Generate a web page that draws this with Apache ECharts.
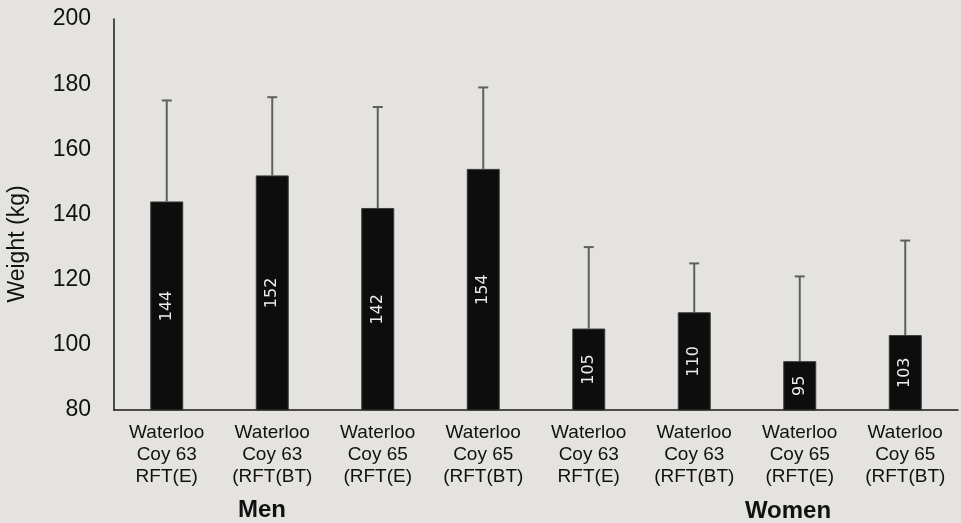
<!DOCTYPE html>
<html>
<head>
<meta charset="utf-8">
<style>
  html, body { margin: 0; padding: 0; background: #e4e3df; }
  #chart { width: 961px; height: 523px; }
</style>
<script src="https://cdn.jsdelivr.net/npm/echarts@6/dist/echarts.min.js"></script>
</head>
<body>
<div id="chart"></div>
<script>
// Mean weight per group and the upper end of each error bar (kg)
const categories = [
  'Waterloo\nCoy 63\nRFT(E)',
  'Waterloo\nCoy 63\n(RFT(BT)',
  'Waterloo\nCoy 65\n(RFT(E)',
  'Waterloo\nCoy 65\n(RFT(BT)',
  'Waterloo\nCoy 63\nRFT(E)',
  'Waterloo\nCoy 63\n(RFT(BT)',
  'Waterloo\nCoy 65\n(RFT(E)',
  'Waterloo\nCoy 65\n(RFT(BT)'
];
const meanWeight = [144, 152, 142, 154, 105, 110, 95, 103];
const errorTop = [175, 176, 173, 179, 130, 125, 121, 132];
const yTicks = { min: 80, max: 200, interval: 20 };
const yTitle = 'Weight (kg)';
const groupLabels = ['Men', 'Women'];

const FONT = '"Liberation Sans", Arial, sans-serif';
const chart = echarts.init(document.getElementById('chart'), null, { renderer: 'canvas' });

const errorData = meanWeight.map((v, i) => [i, v, errorTop[i]]);

chart.setOption({
  backgroundColor: '#e4e3df',
  animation: false,
  grid: { left: 114, right: 3, top: 19, bottom: 113, containLabel: false },
  xAxis: {
    type: 'category',
    data: categories,
    axisLine: { lineStyle: { color: '#1a1a1a', width: 1.5 } },
    axisTick: { show: false },
    axisLabel: {
      interval: 0,
      margin: 12,
      color: '#111',
      fontFamily: FONT,
      fontSize: 19,
      lineHeight: 22
    }
  },
  yAxis: {
    type: 'value',
    min: yTicks.min,
    max: yTicks.max,
    interval: yTicks.interval,
    splitLine: { show: false },
    axisLine: { show: true, lineStyle: { color: '#1a1a1a', width: 1.5 } },
    axisTick: { show: false },
    axisLabel: {
      margin: 23,
      color: '#111',
      fontFamily: FONT,
      fontSize: 23
    }
  },
  series: [
    {
      type: 'bar',
      data: meanWeight,
      barWidth: 33,
      itemStyle: { color: '#0d0d0d', borderColor: '#3c3c3c', borderWidth: 1 },
      label: {
        show: true,
        position: 'inside',
        rotate: 90,
        color: '#ececec',
        fontFamily: 'DejaVu Sans, sans-serif',
        fontSize: 16
      },
      z: 2
    },
    {
      type: 'custom',
      data: errorData,
      z: 1,
      renderItem: function (params, api) {
        const x = api.value(0);
        const base = api.coord([x, api.value(1)]);
        const top = api.coord([x, api.value(2)]);
        const half = 5;
        const style = { stroke: '#5f5f5f', lineWidth: 2 };
        return {
          type: 'group',
          children: [
            { type: 'line', shape: { x1: base[0], y1: base[1], x2: top[0], y2: top[1] }, style: style },
            { type: 'line', shape: { x1: top[0] - half, y1: top[1], x2: top[0] + half, y2: top[1] }, style: style }
          ]
        };
      }
    }
  ],
  graphic: [
    {
      type: 'text', x: 18, y: 244, rotation: Math.PI / 2,
      style: { text: yTitle, fill: '#111', font: '23px ' + FONT, align: 'center', verticalAlign: 'middle' }
    },
    {
      type: 'text', x: 262, y: 510,
      style: { text: groupLabels[0], fill: '#111', font: 'bold 24px ' + FONT, align: 'center', verticalAlign: 'middle' }
    },
    {
      type: 'text', x: 788, y: 511,
      style: { text: groupLabels[1], fill: '#111', font: 'bold 24px ' + FONT, align: 'center', verticalAlign: 'middle' }
    }
  ]
});
</script>
</body>
</html>
